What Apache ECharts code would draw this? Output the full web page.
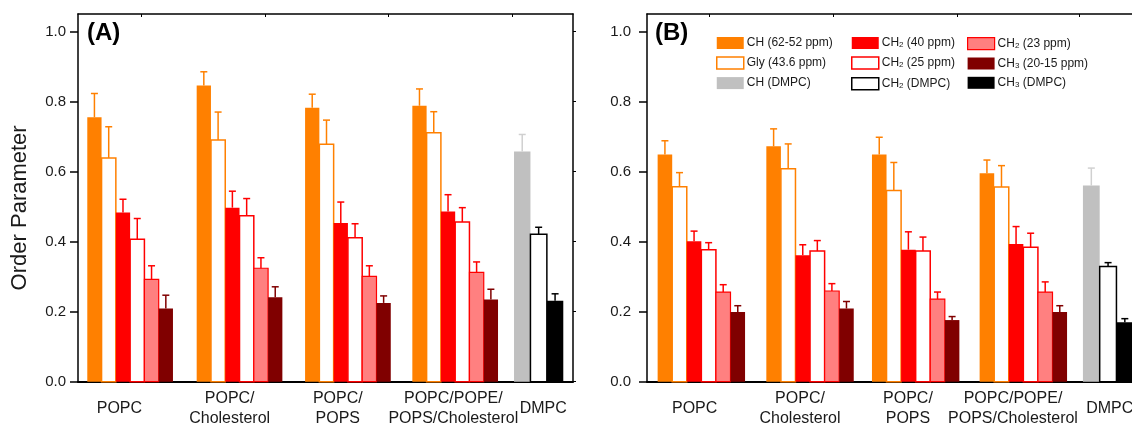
<!DOCTYPE html>
<html>
<head>
<meta charset="utf-8">
<script src="https://cdn.jsdelivr.net/npm/echarts@6/dist/echarts.min.js"></script>
<style>
html, body { margin: 0; padding: 0; background: #fff; }
#chart { width: 1132px; height: 425px; }
</style>
</head>
<body>
<div id="chart"></div>
<script>
// lipid mixtures on the x axis
const groups = ['POPC', 'POPC/\nCholesterol', 'POPC/\nPOPS', 'POPC/POPE/\nPOPS/Cholesterol', 'DMPC'];
const yTicks = [0, 0.2, 0.4, 0.6, 0.8, 1.0];

// carbon sites, same order as the bars inside a group
const sites = ['CH (62-52 ppm)', 'Gly (43.6 ppm)', 'CH2 (40 ppm)', 'CH2 (25 ppm)', 'CH2 (23 ppm)', 'CH3 (20-15 ppm)'];
const dmpcSites = ['CH (DMPC)', 'CH2 (DMPC)', 'CH3 (DMPC)'];

// panel A: order parameter and (upper) error per group
const aPOPC = [0.755, 0.639, 0.483, 0.407, 0.292, 0.209];
const aPOPCerr = [0.068, 0.089, 0.038, 0.059, 0.039, 0.038];
const aChol = [0.846, 0.690, 0.497, 0.474, 0.324, 0.241];
const aCholErr = [0.039, 0.080, 0.047, 0.049, 0.030, 0.030];
const aPOPS = [0.782, 0.678, 0.453, 0.411, 0.301, 0.225];
const aPOPSerr = [0.039, 0.069, 0.060, 0.040, 0.030, 0.020];
const aMix = [0.788, 0.711, 0.486, 0.456, 0.312, 0.235];
const aMixErr = [0.048, 0.060, 0.048, 0.041, 0.030, 0.029];
const aDMPC = [0.657, 0.421, 0.231];
const aDMPCerr = [0.049, 0.020, 0.020];

// panel B
const bPOPC = [0.649, 0.557, 0.401, 0.377, 0.256, 0.199];
const bPOPCerr = [0.039, 0.040, 0.029, 0.020, 0.021, 0.018];
const bChol = [0.672, 0.608, 0.361, 0.373, 0.259, 0.209];
const bCholErr = [0.050, 0.071, 0.030, 0.030, 0.021, 0.020];
const bPOPS = [0.649, 0.546, 0.377, 0.373, 0.236, 0.176];
const bPOPSerr = [0.049, 0.080, 0.051, 0.040, 0.020, 0.010];
const bMix = [0.595, 0.556, 0.393, 0.384, 0.256, 0.199];
const bMixErr = [0.038, 0.061, 0.050, 0.040, 0.029, 0.018];
const bDMPC = [0.560, 0.329, 0.170];
const bDMPCerr = [0.050, 0.011, 0.010];

// layout: x axis runs in bar-width units
const XMAX = 34.66;
const startA = [0.65, 8.31, 15.9, 23.41, 30.53];
const startB = [0.73, 8.19, 15.44, 22.83, 29.92];
const labelPosA = [2.9, 10.62, 18.19, 26.28, 32.58];
const labelPosB = [3.27, 10.5, 17.91, 25.12, 31.76];
const topTickA = [4.45, 13.1, 21.75, 30.4];
const topTickB = [4.26, 12.78, 21.3, 29.7];
const DMPC_W = 1.15;

const siteStyle = [
  { fill: '#ff8000', edge: '#ff8000', err: '#ff8000', bw: 0 },
  { fill: '#ffffff', edge: '#ff8000', err: '#ff8000', bw: 1.5 },
  { fill: '#ff0000', edge: '#ff0000', err: '#ff0000', bw: 0 },
  { fill: '#ffffff', edge: '#ff0000', err: '#ff0000', bw: 1.5 },
  { fill: '#ff8080', edge: '#ff0000', err: '#ff0000', bw: 1.2 },
  { fill: '#800000', edge: '#800000', err: '#800000', bw: 0 }
];
const dmpcStyle = [
  { fill: '#c0c0c0', edge: '#c0c0c0', err: '#d0d0d0', bw: 0 },
  { fill: '#ffffff', edge: '#000000', err: '#000000', bw: 1.5 },
  { fill: '#000000', edge: '#000000', err: '#000000', bw: 0 }
];

const font = "'Liberation Sans', Arial, sans-serif";

function makeRender(starts, offset, width, st) {
  return function (params, api) {
    const g = api.value(0);
    const v = api.value(1);
    const e = api.value(2);
    const x0 = starts[g] + offset * width;
    const tl = api.coord([x0, v]);
    const br = api.coord([x0 + width, 0]);
    const top = api.coord([x0 + width / 2, v + e]);
    const cap = 3.5;
    return {
      type: 'group',
      children: [
        {
          type: 'rect',
          shape: { x: tl[0], y: tl[1], width: br[0] - tl[0], height: br[1] - tl[1] },
          style: { fill: st.fill, stroke: st.bw ? st.edge : null, lineWidth: st.bw }
        },
        {
          type: 'line',
          shape: { x1: top[0], y1: tl[1], x2: top[0], y2: top[1] },
          style: { stroke: st.err, lineWidth: 1.5 }
        },
        {
          type: 'line',
          shape: { x1: top[0] - cap, y1: top[1], x2: top[0] + cap, y2: top[1] },
          style: { stroke: st.err, lineWidth: 1.5 }
        }
      ]
    };
  };
}

function panelSeries(axis, starts, mixes, errs, dVals, dErrs) {
  const out = [];
  sites.forEach((name, s) => {
    const st = siteStyle[s];
    out.push({
      name: name,
      type: 'custom',
      xAxisIndex: axis,
      yAxisIndex: axis,
      itemStyle: { color: st.fill, borderColor: st.edge, borderWidth: st.bw },
      renderItem: makeRender(starts, s, 1, st),
      data: mixes.map((m, g) => [g, m[s], errs[g][s]])
    });
  });
  dmpcSites.forEach((name, s) => {
    const st = dmpcStyle[s];
    out.push({
      name: name,
      type: 'custom',
      xAxisIndex: axis,
      yAxisIndex: axis,
      itemStyle: { color: st.fill, borderColor: st.edge, borderWidth: st.bw },
      renderItem: makeRender(starts, s, DMPC_W, st),
      data: [[4, dVals[s], dErrs[s]]]
    });
  });
  return out;
}

function nearestLabel(pos) {
  return function (v) {
    let best = 0;
    pos.forEach((p, i) => { if (Math.abs(p - v) < Math.abs(pos[best] - v)) best = i; });
    return groups[best];
  };
}

function bottomAxis(grid, pos) {
  return {
    gridIndex: grid, type: 'value', min: 0, max: XMAX, position: 'bottom',
    axisLine: { show: true, onZero: false, lineStyle: { color: '#000', width: 2 } },
    axisTick: { show: false },
    splitLine: { show: false },
    axisLabel: {
      customValues: pos, formatter: nearestLabel(pos),
      fontSize: 16, lineHeight: 20.5, color: '#1a1a1a', fontFamily: font,
      verticalAlign: 'middle', margin: 27
    }
  };
}

function topAxis(grid, ticks) {
  return {
    gridIndex: grid, type: 'value', min: 0, max: XMAX, position: 'top',
    axisLine: { show: true, onZero: false, lineStyle: { color: '#000', width: 1.5 } },
    axisTick: { show: true, inside: true, length: 3, customValues: ticks, lineStyle: { color: '#000', width: 1 } },
    axisLabel: { show: false },
    splitLine: { show: false }
  };
}

function leftAxis(grid, margin, name) {
  return {
    gridIndex: grid, type: 'value', min: 0, max: 1.05, position: 'left',
    name: name, nameLocation: 'middle', nameGap: 47,
    nameTextStyle: { fontSize: 22, color: '#1a1a1a', fontFamily: font, padding: [0, 20, 0, 0] },
    axisLine: { show: true, onZero: false, lineStyle: { color: '#000', width: 1.5 } },
    axisTick: { show: true, length: 8, customValues: yTicks, lineStyle: { color: '#000', width: 1.5 } },
    axisLabel: {
      customValues: yTicks, formatter: (v) => v.toFixed(1),
      fontSize: 15, color: '#1a1a1a', fontFamily: font, margin: margin
    },
    splitLine: { show: false }
  };
}

function rightAxis(grid) {
  return {
    gridIndex: grid, type: 'value', min: 0, max: 1.05, position: 'right',
    axisLine: { show: true, onZero: false, lineStyle: { color: '#000', width: 1.5 } },
    axisTick: { show: true, length: 3, customValues: yTicks, lineStyle: { color: '#000', width: 1 } },
    axisLabel: { show: false },
    splitLine: { show: false }
  };
}

const legendStyle = {};
sites.forEach((n, s) => { legendStyle[n] = { color: siteStyle[s].fill, borderColor: siteStyle[s].edge, borderWidth: siteStyle[s].bw }; });
dmpcSites.forEach((n, s) => { legendStyle[n] = { color: dmpcStyle[s].fill, borderColor: dmpcStyle[s].edge, borderWidth: dmpcStyle[s].bw }; });

function legendCol(left, names) {
  return {
    orient: 'vertical', left: left, top: 37, padding: 0,
    itemWidth: 27, itemHeight: 12, itemGap: 7.3, icon: 'rect',
    selectedMode: false,
    data: names.map((n) => ({ name: n, itemStyle: legendStyle[n] })),
    formatter: (n) => n.replace(/^CH(\d)/, 'CH{sub|$1}'),
    textStyle: {
      fontSize: 12, lineHeight: 12, color: '#1a1a1a', fontFamily: font, padding: [0, 0, 0, -2],
      rich: { sub: { fontSize: 8, lineHeight: 8, verticalAlign: 'bottom', color: '#1a1a1a', fontFamily: font } }
    }
  };
}

const myChart = echarts.init(document.getElementById('chart'));
const option = {
  animation: false,
  backgroundColor: '#ffffff',
  textStyle: { fontFamily: font },
  title: [
    { text: '(A)', left: 87, top: 21, padding: 0, textStyle: { fontSize: 24, fontWeight: 'bold', color: '#000', fontFamily: font } },
    { text: '(B)', left: 655, top: 21, padding: 0, textStyle: { fontSize: 24, fontWeight: 'bold', color: '#000', fontFamily: font } }
  ],
  legend: [
    legendCol(716, [sites[0], sites[1], dmpcSites[0]]),
    legendCol(851, [sites[2], sites[3], dmpcSites[1]]),
    legendCol(967, [sites[4], sites[5], dmpcSites[2]])
  ],
  grid: [
    { left: 78, top: 14, width: 495, height: 367.7, outerBoundsMode: 'none' },
    { left: 647, top: 14, width: 505, height: 367.7, outerBoundsMode: 'none' }
  ],
  xAxis: [bottomAxis(0, labelPosA), topAxis(0, topTickA), bottomAxis(1, labelPosB), topAxis(1, topTickB)],
  yAxis: [leftAxis(0, 12, 'Order Parameter'), rightAxis(0), leftAxis(1, 16, ''), rightAxis(1)],
  series: [].concat(
    panelSeries(0, startA, [aPOPC, aChol, aPOPS, aMix], [aPOPCerr, aCholErr, aPOPSerr, aMixErr], aDMPC, aDMPCerr),
    panelSeries(2, startB, [bPOPC, bChol, bPOPS, bMix], [bPOPCerr, bCholErr, bPOPSerr, bMixErr], bDMPC, bDMPCerr)
  )
};
myChart.setOption(option);
</script>
</body>
</html>
